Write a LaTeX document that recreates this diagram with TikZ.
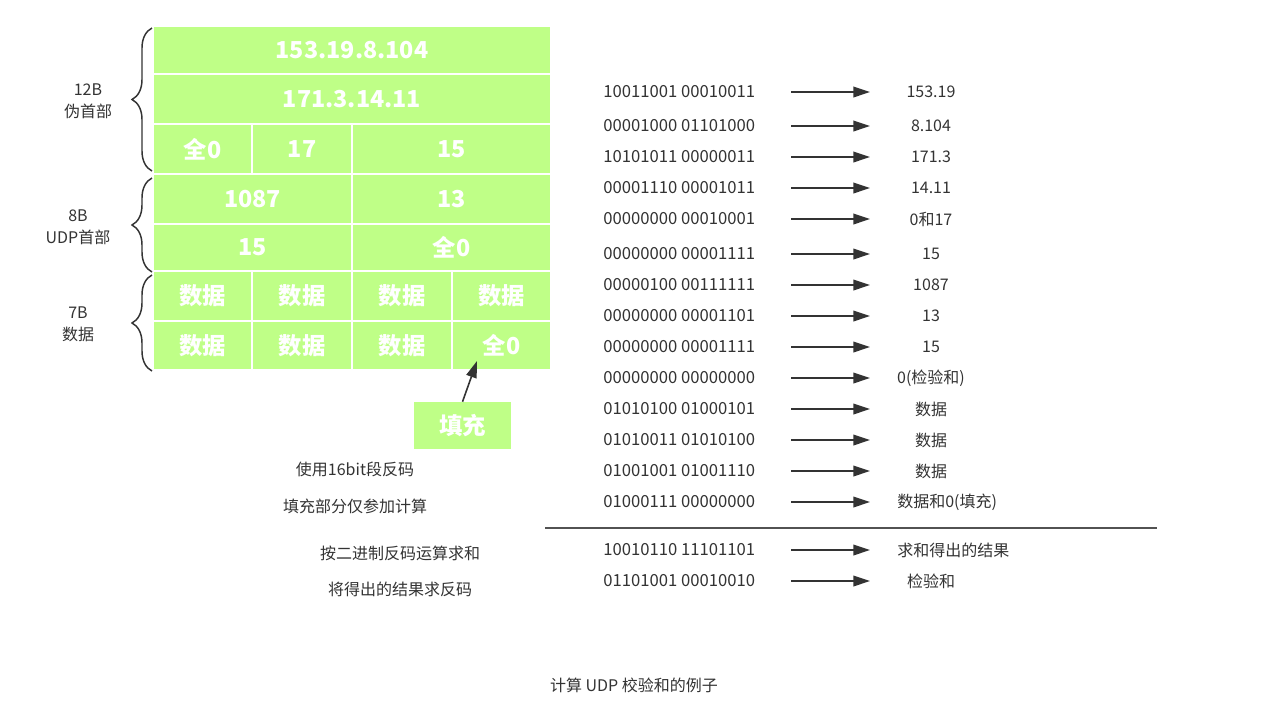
\documentclass[tikz,border=0pt]{standalone}
\usepackage{fontspec}
\setmainfont{Noto Sans CJK SC}
\usetikzlibrary{calc,decorations.pathreplacing,arrows.meta}
\definecolor{cellgreen}{RGB}{191,255,135}
\definecolor{ink}{RGB}{51,51,51}
\tikzset{
  cell/.style={fill=cellgreen, draw=white, line width=1.5pt},
  celltext/.style={text=white, font=\fontsize{17.5}{19}\selectfont\bfseries, inner sep=0pt},
  brc/.style={decorate, decoration={brace, amplitude=15pt}, draw=ink, line width=1.1pt},
  lbl/.style={text=ink, font=\fontsize{12}{16.5}\selectfont, align=center},
  bits/.style={lbl, anchor=west, inner sep=0pt, font=\fontsize{12.5}{16.5}\selectfont},
  val/.style={lbl, inner sep=0pt},
  valw/.style={lbl, inner sep=0pt, anchor=west, xshift=-25.5pt},
  arr/.style={draw=ink, line width=1.2pt, -{Triangle[length=12.5pt,width=8pt]}}
}
\def\cellbox(#1)(#2)#3#4{\draw[cell] (#1) rectangle (#2); \node[celltext] (#3) at ($(#1)!0.5!(#2)$) {#4};}
\def\binrow(#1:#2)[#3]#4#5{
  \node[bits] (b#1) at (603,#2) {#4};
  \node[#3] (v#1) at (931,#2) {#5};
  \coordinate (s#1) at (791,#2);
  \coordinate (e#1) at (870,#2);
  \draw[arr] (s#1) -- (e#1);
}

\begin{document}
\begin{tikzpicture}[x=0.75pt,y=-0.75pt]
			%%%%% START %%%%%
			\useasboundingbox (0,0) rectangle (1268,726);
			
			% header fields
			\cellbox(153,26)(551,74){ip1}{153.19.8.104}
			\cellbox(153,74)(551,124){ip2}{171.3.14.11}
			\cellbox(153,124)(252,174){zero}{全0}
			\cellbox(252,124)(352,174){proto}{17}
			\cellbox(352,124)(551,174){ulen}{15}
			\cellbox(153,174)(352,224){sport}{1087}
			\cellbox(352,174)(551,224){dport}{13}
			\cellbox(153,224)(352,271){len}{15}
			\cellbox(352,224)(551,271){csum}{全0}
			
			% data
			\cellbox(153,271)(252,321){d1}{数据}
			\cellbox(252,271)(352,321){d2}{数据}
			\cellbox(352,271)(452,321){d3}{数据}
			\cellbox(452,271)(551,321){d4}{数据}
			\cellbox(153,321)(252,370){d5}{数据}
			\cellbox(252,321)(352,370){d6}{数据}
			\cellbox(352,321)(452,370){d7}{数据}
			\cellbox(452,321)(551,370){pad}{全0}
			
			% braces
			\draw[brc] (152,171) -- (152,28);
			\draw[brc] (152,272) -- (152,178);
			\draw[brc] (152,371) -- (152,275);
			\node[lbl] (pseudo) at (88,101) {12B\\伪首部};
			\node[lbl] (udph) at (78,227) {8B\\UDP首部};
			\node[lbl] (data) at (78,324) {7B\\数据};
			
			% padding
			\node[fill=cellgreen, minimum width=72.75pt, minimum height=35.25pt, inner sep=0pt,
			  text=white, font=\fontsize{17.5}{19}\selectfont\bfseries] (fill) at (462.5,425.5) {填充};
			\coordinate (padin) at (477,361);
			\draw[arr] (fill.north) -- (padin);
			
			\node[lbl] (n1) at (355,469) {使用16bit段反码};
			\node[lbl] (n2) at (355,506) {填充部分仅参加计算};
			\node[lbl] (n3) at (400,553) {按二进制反码运算求和};
			\node[lbl] (n4) at (400,589) {将得出的结果求反码};
			
			% 16 bit words
			\binrow(1:92)[val]{10011001 00010011}{153.19}
			\binrow(2:126)[val]{00001000 01101000}{8.104}
			\binrow(3:157)[val]{10101011 00000011}{171.3}
			\binrow(4:188)[val]{00001110 00001011}{14.11}
			\binrow(5:219)[val]{00000000 00010001}{0和17}
			\binrow(6:254)[val]{00000000 00001111}{15}
			\binrow(7:285)[val]{00000100 00111111}{1087}
			\binrow(8:316)[val]{00000000 00001101}{13}
			\binrow(9:347)[val]{00000000 00001111}{15}
			\binrow(10:378)[val]{00000000 00000000}{0(检验和)}
			\binrow(11:409)[val]{01010100 01000101}{数据}
			\binrow(12:440)[val]{01010011 01010100}{数据}
			\binrow(13:471)[val]{01001001 01001110}{数据}
			\binrow(14:502)[valw]{01000111 00000000}{数据和0(填充)}
			
			\draw[draw=ink!85, line width=1.5pt] (545,528) -- (1157,528);
			
			\binrow(15:550)[valw]{10010110 11101101}{求和得出的结果}
			\binrow(16:581)[val]{01101001 00010010}{检验和}
			
			\node[lbl] (title) at (634,685) {计算 UDP 校验和的例子};
			%%%%% END %%%%%
\end{tikzpicture}
\end{document}
